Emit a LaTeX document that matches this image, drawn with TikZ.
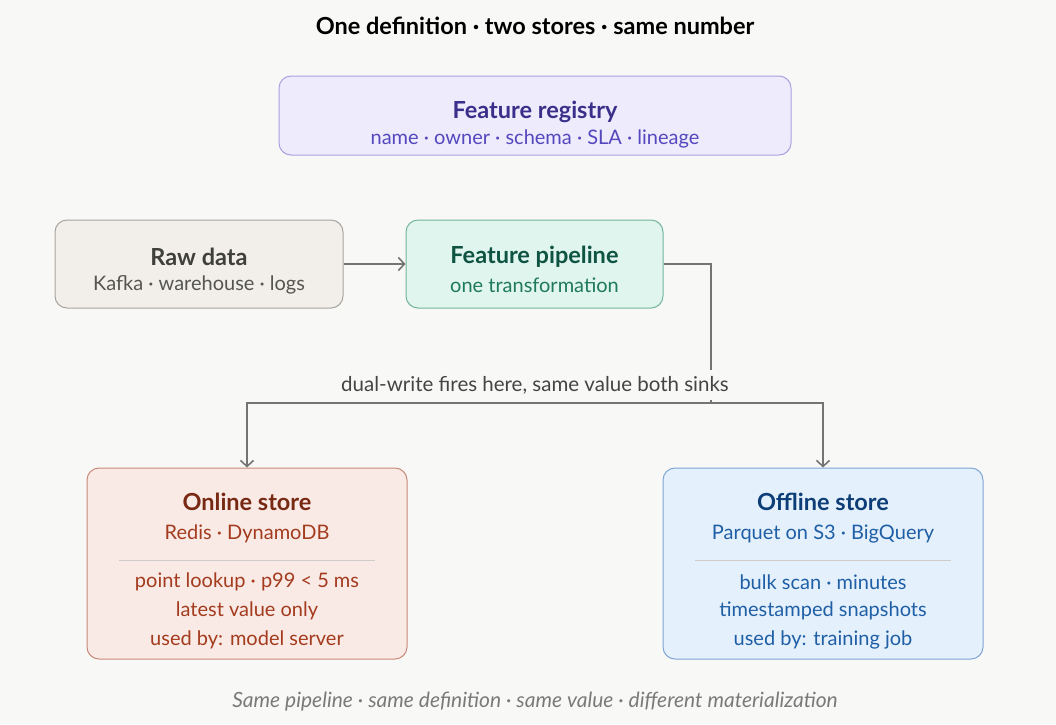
\documentclass[tikz,border=0pt]{standalone}
\usepackage{fontspec}
\setmainfont{Lato}
\usetikzlibrary{arrows.meta}
\definecolor{bg}{HTML}{F8F8F6}
\definecolor{regfill}{HTML}{EDEBFC}
\definecolor{regdraw}{HTML}{A8A2E0}
\definecolor{regtitle}{HTML}{3A2F8A}
\definecolor{regtext}{HTML}{5548BE}
\definecolor{rawfill}{HTML}{F2EEE9}
\definecolor{rawdraw}{HTML}{A9A49F}
\definecolor{rawtitle}{HTML}{3F3F3C}
\definecolor{rawtext}{HTML}{555552}
\definecolor{pipfill}{HTML}{E0F5EE}
\definecolor{pipdraw}{HTML}{72B59D}
\definecolor{piptitle}{HTML}{0F5442}
\definecolor{piptext}{HTML}{1F7A5C}
\definecolor{onfill}{HTML}{FAEAE5}
\definecolor{ondraw}{HTML}{C88A78}
\definecolor{ontitle}{HTML}{772913}
\definecolor{ontext}{HTML}{A33B1E}
\definecolor{offfill}{HTML}{E4F0FB}
\definecolor{offdraw}{HTML}{7FA5D5}
\definecolor{offtitle}{HTML}{0E3E78}
\definecolor{offtext}{HTML}{1F5FA6}
\definecolor{sep}{HTML}{CFCBC8}
\definecolor{edge}{HTML}{747472}
\definecolor{lbl}{HTML}{444442}
\definecolor{foot}{HTML}{7A7A78}
\tikzset{
  box/.style={draw, line width=1pt, rounded corners=12pt, inner sep=0pt},
  ttl/.style={font=\fontsize{23.5}{26}\selectfont\bfseries, yshift=-2pt},
  sub/.style={font=\fontsize{20}{24}\selectfont, yshift=-1pt},
  conn/.style={draw=edge, line width=2pt},
  tip/.style={-{Straight Barb[length=6pt,width=13pt,line width=1.6pt]}},
}
\begin{document}
\begin{tikzpicture}[x=1pt,y=-1pt]
\fill[bg] (0,0) rectangle (1056,724);
\useasboundingbox (0,0) rectangle (1056,724);

\node[font=\fontsize{23.5}{26}\selectfont\bfseries, text=black] (title) at (535,26) {One definition · two stores · same number};

% registry
\node[box, draw=regdraw, fill=regfill, minimum width=512pt, minimum height=79pt] (reg) at (535,115.5) {};
\node[ttl, text=regtitle] (regt) at (535,110) {Feature registry};
\node[sub, text=regtext] (regs) at (535,138) {name · owner · schema · SLA · lineage};

% raw data
\node[box, draw=rawdraw, fill=rawfill, minimum width=288pt, minimum height=88pt] (raw) at (199,264) {};
\node[ttl, text=rawtitle] (rawt) at (199,255) {Raw data};
\node[sub, text=rawtext] (raws) at (199,284) {Kafka · warehouse · logs};

% pipeline
\node[box, draw=pipdraw, fill=pipfill, minimum width=257pt, minimum height=88pt] (pipe) at (534.5,264) {};
\node[ttl, text=piptitle] (pipet) at (534.5,255) {Feature pipeline};
\node[sub, text=piptext] (pipes) at (534.5,284) {one transformation};

% online store
\node[box, draw=ondraw, fill=onfill, minimum width=320pt, minimum height=191pt] (online) at (247,563.5) {};
\node[ttl, text=ontitle] (ont) at (247,500) {Online store};
\node[sub, text=ontext] (on1) at (247,533) {Redis · DynamoDB};
\draw[sep, line width=1pt] (119,560) -- (375,560);
\node[sub, text=ontext] (on2) at (247,581) {point lookup · p99 < 5 ms};
\node[sub, text=ontext] (on3) at (247,610) {latest value only};
\node[sub, text=ontext] (on4) at (247,639) {used by: model server};

% offline store
\node[box, draw=offdraw, fill=offfill, minimum width=320pt, minimum height=191pt] (offline) at (823,563.5) {};
\node[ttl, text=offtitle] (offt) at (823,500) {Offline store};
\node[sub, text=offtext] (off1) at (823,533) {Parquet on S3 · BigQuery};
\draw[sep, line width=1pt] (695,560) -- (951,560);
\node[sub, text=offtext] (off2) at (823,581) {bulk scan · minutes};
\node[sub, text=offtext] (off3) at (823,610) {timestamped snapshots};
\node[sub, text=offtext] (off4) at (823,639) {used by: training job};

% connectors
\draw[conn, tip] (raw.east) -- (pipe.west);
\coordinate (split) at (711,403);
\coordinate (lft) at (247,403);
\coordinate (rgt) at (823,403);
\draw[conn] (pipe.east) -| (split);
\draw[conn, tip] (split) -- (lft) -- (online.north);
\draw[conn, tip] (split) -- (rgt) -- (offline.north);
\node[fill=bg, inner xsep=2pt, inner ysep=6pt, font=\fontsize{20.5}{24}\selectfont, text=lbl] (lab) at (535,385) {dual-write fires here, same value both sinks};

\node[font=\fontsize{21}{24}\selectfont\itshape, text=foot] (footer) at (535,702) {Same pipeline · same definition · same value · different materialization};
\end{tikzpicture}
\end{document}
